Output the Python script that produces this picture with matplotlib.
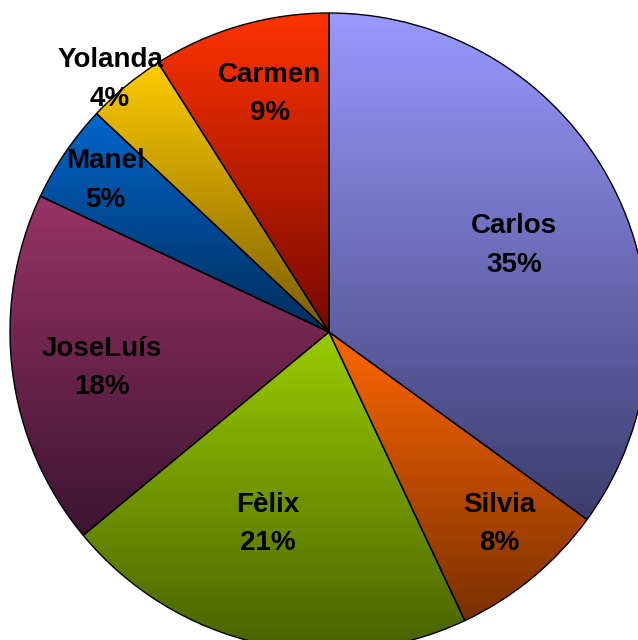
"""
Pie chart with vertical gradient slices
"""
import numpy as np
import matplotlib
matplotlib.use("Agg")
import matplotlib.pyplot as plt
from matplotlib.colors import LinearSegmentedColormap

names = ['Carlos', 'Silvia', 'Fèlix', 'JoseLuís', 'Manel', 'Yolanda', 'Carmen']
shares = [35, 8, 21, 18, 5, 4, 9]

# (top, bottom) colours of each slice gradient
top_colors = ['#9999ff', '#ff6600', '#99cc00', '#993366', '#0066cc', '#ffcc00', '#ff3300']
bottom_colors = ['#3c3c6e', '#7a3000', '#4a6000', '#3c1430', '#002d5c', '#7a5c00', '#780800']

# label placement: distance (fraction of radius) and angle shift from mid-slice
label_r = [0.644, 0.797, 0.623, 0.719, 0.853, 1.055, 0.778]
label_shift = [-1.2, 2.4, -5.4, 1.1, -0.4, 1.0, -2.4]

W, H = 638, 640
cx, cy, R = 329, H - 332, 319

fig = plt.figure(figsize=(W / 100, H / 100), dpi=100)
ax = fig.add_axes([0, 0, 1, 1])

wedges, _ = ax.pie(shares, startangle=90, counterclock=False, radius=R,
                   center=(cx, cy), frame=True,
                   wedgeprops=dict(facecolor='none', edgecolor='black', linewidth=1.0))
ax.set_xlim(0, W)
ax.set_ylim(0, H)
ax.set_aspect('equal')
ax.axis('off')

grad = np.linspace(0, 1, 256).reshape(-1, 1)
for w, c_top, c_bot in zip(wedges, top_colors, bottom_colors):
    ext = w.get_path().get_extents()
    cmap = LinearSegmentedColormap.from_list('g', [c_bot, c_top])
    im = ax.imshow(grad, cmap=cmap, origin='lower', aspect='auto',
                   extent=(ext.x0, ext.x1, ext.y0, ext.y1), zorder=1,
                   interpolation='bilinear')
    im.set_clip_path(w)
    w.set_zorder(2)

for w, name, share, lr, sh in zip(wedges, names, shares, label_r, label_shift):
    mid = np.radians((w.theta1 + w.theta2) / 2 + sh)
    x = cx + lr * R * np.cos(mid)
    y = cy + lr * R * np.sin(mid) - 3
    ax.text(x, y, f"{name}\n{share}%", ha='center', va='center',
            fontsize=20, fontweight='bold', family='Liberation Sans',
            linespacing=1.63, zorder=3)

ax.set_xlim(0, W)
ax.set_ylim(0, H)
fig.savefig('out.png', dpi=100)
